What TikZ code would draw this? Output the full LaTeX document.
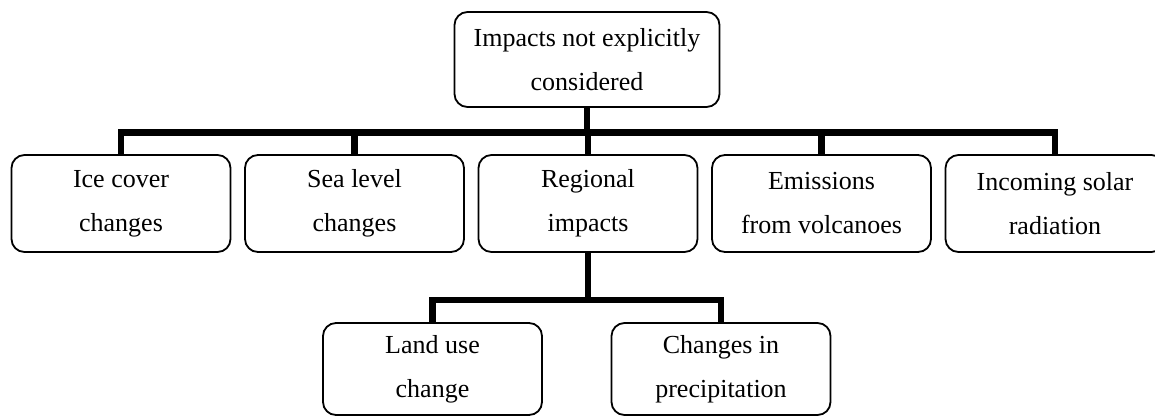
\documentclass[tikz,border=0pt]{standalone}
\usepackage{fontspec}
\setmainfont{Liberation Serif}
\begin{document}
\begin{tikzpicture}[x=1pt,y=-1pt,
  box/.style={draw, line width=1.8pt, rounded corners=13pt, inner sep=0pt,
    align=center, font=\fontsize{26}{44}\selectfont,
    minimum width=219pt, minimum height=97pt},
  link/.style={line width=6.5pt, line join=miter}]
\useasboundingbox (0,0) rectangle (1155,416);
\clip (0,0) rectangle (1155,416);
% nodes
\node[box, minimum width=265pt, minimum height=95pt] (top) at (587,59.5) {Impacts not explicitly\\considered};
\node[box] (ice)  at (121,203.5)   {Ice cover\\changes};
\node[box] (sea)  at (354.5,203.5) {Sea level\\changes};
\node[box] (reg)  at (588,203.5)   {Regional\\impacts};
\node[box] (emi)  at (821.5,203.5) {Emissions\\from volcanoes};
\node[box] (inc)  at (1055,203.5)  {Incoming solar\\radiation};
\node[box, minimum height=92pt] (land) at (432.5,369) {Land use\\change};
\node[box, minimum height=92pt] (prec) at (721,369)   {Changes in\\precipitation};
% connectors
\coordinate (bar) at (587,132.5);
\coordinate (sub) at (588,300);
\draw[link] (top.south) -- (top.south |- bar);
\draw[link] (ice.north) |- (bar) -| (inc.north);
\draw[link] (sea.north) -- (sea.north |- bar);
\draw[link] (reg.north) -- (reg.north |- bar);
\draw[link] (emi.north) -- (emi.north |- bar);
\draw[link] (reg.south) -- (reg.south |- sub);
\draw[link] (land.north) |- (sub) -| (prec.north);
\end{tikzpicture}
\end{document}
